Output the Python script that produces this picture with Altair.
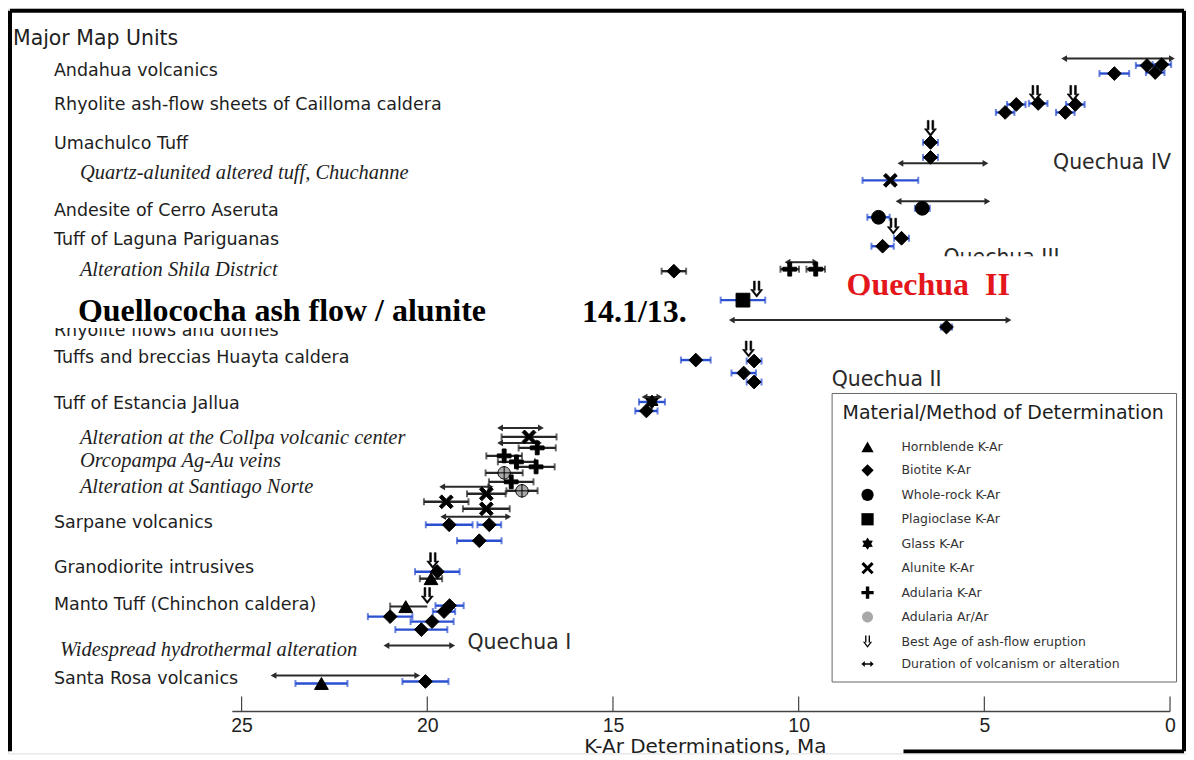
import altair as alt
import pandas as pd

# ---------------- data ----------------
METHODS = ["Hornblende K-Ar", "Biotite K-Ar", "Whole-rock K-Ar", "Plagioclase K-Ar",
           "Glass K-Ar", "Alunite K-Ar", "Adularia K-Ar", "Adularia Ar/Ar",
           "Best Age of ash-flow eruption", "Duration of volcanism or alteration"]
CODE = {"H": METHODS[0], "B": METHODS[1], "W": METHODS[2], "P": METHODS[3], "G": METHODS[4],
        "A": METHODS[5], "K": METHODS[6], "R": METHODS[7]}

# dated samples: method code, age (Ma), error half-width (Ma), error-bar colour, row position
s_code = ["B", "B", "B", "B",                       # Andahua volcanics
          "B", "B", "B", "B", "B",                  # Cailloma ash-flow sheets
          "B", "B",                                 # Umachulco Tuff
          "A",                                      # Chuchanne
          "W",                                      # Cerro Aseruta
          "W", "B", "B",                            # Laguna Pariguanas
          "B", "K", "K",                            # Shila district
          "P", "B",                                 # Quellococha / rhyolite domes
          "B", "B", "B", "B",                       # Huayta caldera
          "G", "B",                                 # Estancia Jallua
          "A", "K",                                 # Collpa
          "K", "K", "K",                            # Orcopampa veins
          "R", "K", "R",                            # Santiago Norte
          "A", "A", "A", "B", "B", "B",             # Sarpane volcanics
          "B", "H",                                 # Granodiorite intrusives
          "H", "B", "B", "B", "B", "B",             # Manto Tuff
          "H", "B"]                                 # Santa Rosa volcanics
s_age = [1.50, 0.62, 0.40, 0.22,
         4.44, 4.14, 3.55, 2.82, 2.55,
         6.45, 6.45,
         7.53,
         6.67,
         7.85, 7.23, 7.74,
         13.36, 10.24, 9.54,
         11.50, 6.02,
         12.77, 11.20, 11.48, 11.20,
         13.95, 14.10,
         17.26, 17.04,
         17.93, 17.60, 17.07,
         17.93, 17.74, 17.45,
         18.41, 19.49, 18.41, 19.41, 18.33, 18.60,
         19.73, 19.90,
         20.58, 21.00, 19.40, 19.55, 19.87, 20.16,
         22.85, 20.05]
s_err = [0.40, 0.30, 0.25, 0.25,
         0.25, 0.25, 0.25, 0.25, 0.25,
         0.20, 0.20,
         0.75,
         0.20,
         0.30, 0.20, 0.30,
         0.33, 0.25, 0.25,
         0.60, 0.15,
         0.40, 0.20, 0.33, 0.20,
         0.35, 0.30,
         0.74, 0.50,
         0.48, 0.50, 0.50,
         0.50, 0.60, 0.42,
         0.52, 0.60, 0.63, 0.63, 0.32, 0.60,
         0.60, 0.30,
         0.00, 0.60, 0.38, 0.30, 0.58, 0.70,
         0.70, 0.62]
s_bar = (["blue"] * 16 + ["black"] * 3 + ["blue"] * 8 + ["black"] * 11 +
         ["blue"] * 4 + ["black"] + ["black"] + ["blue"] * 5 + ["blue"] * 2)
s_pos = [73, 65, 72, 64,
         112, 104, 103, 112, 104,
         142, 157,
         180,
         208,
         217, 238, 246,
         271, 269, 269,
         300, 327,
         360, 361, 373, 382,
         402, 411,
         437, 448,
         456, 462, 467,
         473, 482, 491,
         494, 502, 509, 525, 525, 541,
         572, 579,
         607, 617, 606, 612, 622, 630,
         684, 682]

# best age of ash-flow eruption
ba_age = [3.63, 2.61, 6.45, 7.45, 11.13, 11.35, 19.85, 20.00]
ba_pos = [93, 93, 128, 226, 289, 349, 561, 596]

# duration of volcanism or alteration (older end, younger end, row)
d_old = [2.85, 7.26, 7.31, 10.30, 11.80, 14.15, 18.04, 18.04, 19.60, 19.57, 21.10, 24.14]
d_young = [-0.05, 4.97, 4.92, 9.55, 4.35, 13.75, 16.94, 16.99, 18.30, 17.82, 19.33, 20.27]
d_pos = [58, 163, 201, 262, 320, 397, 428, 443, 487, 517, 646, 676]

# bracket without a sample symbol (Manto Tuff)
br_old = [21.0]
br_young = [20.0]
br_pos = [607]

# row labels
sans_labels = ["Andahua volcanics", "Rhyolite ash-flow sheets of Cailloma caldera", "Umachulco Tuff",
               "Andesite of Cerro Aseruta", "Tuff of Laguna Pariguanas", "Rhyolite flows and domes",
               "Tuffs and breccias Huayta caldera", "Tuff of Estancia Jallua", "Sarpane volcanics",
               "Granodiorite intrusives", "Manto Tuff (Chinchon caldera)", "Santa Rosa volcanics"]
sans_pos = [70, 105, 144, 211, 240, 331, 358, 404, 523, 568, 605, 680]
italic_labels = ["Quartz-alunited altered tuff, Chuchanne", "Alteration Shila District",
                 "Alteration at the Collpa volcanic center", "Orcopampa Ag-Au veins",
                 "Alteration at Santiago Norte"]
italic_pos = [173, 270, 438, 461, 487]
flush_italic_labels = ["Widespread hydrothermal alteration"]
flush_italic_pos = [650]

quechua_labels = ["Quechua IV", "Quechua III", "Quechua II", "Quechua I"]
quechua_age = [3.15, 6.1, 9.11, 18.92]
quechua_pos = [163, 258, 380, 643]

tick_values = [25, 20, 15, 10, 5, 0]

# ---------------- frames ----------------
samples = pd.DataFrame({"method": [CODE[c] for c in s_code], "age": s_age, "err": s_err,
                        "bar": s_bar, "pos": s_pos})
samples["lo"] = samples["age"] + samples["err"]
samples["hi"] = samples["age"] - samples["err"]
bars = samples[samples["err"] > 0]
best = pd.DataFrame({"method": METHODS[8], "age": ba_age, "pos": ba_pos})
dur = pd.DataFrame({"old": d_old, "young": d_young, "pos": d_pos})
brk = pd.DataFrame({"old": br_old, "young": br_young, "pos": br_pos})
ticks = pd.DataFrame({"t": tick_values})
axis_line = pd.DataFrame({"a": [25.25], "b": [0.0]})
one = pd.DataFrame({"k": [0]})

SANS = "DejaVu Sans"
SERIF = "Liberation Serif"
NARROW = "Liberation Sans Narrow, Liberation Sans"
INK = "#1e1e1e"
BLUE = "#2a4fd0"

TITLE = "K-Ar Determinations, Ma"
xscale = alt.Scale(domain=[-0.43, 31.29], reverse=True, nice=False, zero=False)
yscale = alt.Scale(domain=[8, 754], reverse=True, nice=False, zero=False)
xaxis = alt.Axis(values=tick_values, offset=-42, domain=False, ticks=False, grid=False,
                 labelFontSize=19.5, labelFont=NARROW, labelColor=INK, labelPadding=5,
                 labelFlush=False, titleFontSize=20, titleFont=SANS, titleFontWeight="normal",
                 titleColor=INK, titlePadding=2, titleX=698)


def X(f):
    return alt.X(f, type="quantitative", scale=xscale, axis=xaxis, title=TITLE)


def Y(f):
    return alt.Y(f, type="quantitative", scale=yscale, axis=None)


X_PATH = "M-1,-0.65 L-0.65,-1 L0,-0.35 L0.65,-1 L1,-0.65 L0.35,0 L1,0.65 L0.65,1 L0,0.35 L-0.65,1 L-1,0.65 L-0.35,0 Z"
PLUS_PATH = "M-1,-0.28 L-0.28,-0.28 L-0.28,-1 L0.28,-1 L0.28,-0.28 L1,-0.28 L1,0.28 L0.28,0.28 L0.28,1 L-0.28,1 L-0.28,0.28 L-1,0.28 Z"
GLASS_PATH = "M0,-1 L0.3,-0.52 L0.87,-0.5 L0.6,0 L0.87,0.5 L0.3,0.52 L0,1 L-0.3,0.52 L-0.87,0.5 L-0.6,0 L-0.87,-0.5 L-0.3,-0.52 Z"
ARAR_PATH = "M-0.9,0 A0.9,0.9 0 1,0 0.9,0 A0.9,0.9 0 1,0 -0.9,0 Z M0,-1 L0,1 M-1,0 L1,0"
BEST_PATH = ("M-0.4,-1 L-0.18,-1 L-0.18,0.15 L-0.4,0.15 Z M0.18,-1 L0.4,-1 L0.4,0.15 L0.18,0.15 Z "
             "M-0.75,0.05 L-0.5,0.05 L0,0.7 L0.5,0.05 L0.75,0.05 L0,1 Z")
DUR_PATH = ("M-1,0 L-0.45,-0.5 L-0.45,-0.12 L0.45,-0.12 L0.45,-0.5 L1,0 L0.45,0.5 L0.45,0.12 "
            "L-0.45,0.12 L-0.45,0.5 Z")

shape_scale = alt.Scale(domain=METHODS,
                        range=["triangle-up", "diamond", "circle", "square", GLASS_PATH, X_PATH,
                               PLUS_PATH, ARAR_PATH, BEST_PATH, DUR_PATH])
fill_scale = alt.Scale(domain=METHODS,
                       range=["black"] * 7 + ["#a8a8a8", "black", "black"])
legend = alt.Legend(title="Material/Method of Determination", orient="none", legendX=825, legendY=385,
                    padding=11, strokeColor="#666", fillColor="white",
                    titleFont=SANS, titleFontSize=19, titleFontWeight="normal", titleColor=INK,
                    titlePadding=17, titleLimit=500,
                    labelFont=SANS, labelFontSize=12.5, labelColor="#333", labelOffset=27, labelLimit=400,
                    symbolOffset=18, rowPadding=6.5, symbolSize=150,
                    symbolStrokeColor="black", symbolStrokeWidth=1)

bar_color = alt.Color("bar:N", scale=alt.Scale(domain=["blue", "black"], range=[BLUE, "#262626"]),
                      legend=None)

layers = []
# duration arrows
layers.append(alt.Chart(dur).mark_rule(color="#2b2b2b", strokeWidth=2).encode(
    x=X("old"), x2="young", y=Y("pos")))
layers.append(alt.Chart(dur).mark_point(shape="triangle-left", filled=True, size=45, color="#2b2b2b",
                                        opacity=1).encode(x=X("old"), y=Y("pos")))
layers.append(alt.Chart(dur).mark_point(shape="triangle-right", filled=True, size=45, color="#2b2b2b",
                                        opacity=1).encode(x=X("young"), y=Y("pos")))
# bracket
layers.append(alt.Chart(brk).mark_rule(color="#2b2b2b", strokeWidth=2).encode(
    x=X("old"), x2="young", y=Y("pos")))
layers.append(alt.Chart(brk).mark_tick(orient="vertical", size=8, thickness=2, color="#2b2b2b").encode(
    x=X("old"), y=Y("pos")))
# error bars
layers.append(alt.Chart(bars).mark_rule(strokeWidth=2.4).encode(
    x=X("lo"), x2="hi", y=Y("pos"), color=bar_color))
layers.append(alt.Chart(bars).mark_tick(orient="vertical", size=7, thickness=2).encode(
    x=X("lo"), y=Y("pos"), color=bar_color))
layers.append(alt.Chart(bars).mark_tick(orient="vertical", size=7, thickness=2).encode(
    x=X("hi"), y=Y("pos"), color=bar_color))
# sample symbols
layers.append(alt.Chart(samples).mark_point(filled=True, size=190, stroke="black", strokeWidth=1,
                                            opacity=1).encode(
    x=X("age"), y=Y("pos"),
    shape=alt.Shape("method:N", scale=shape_scale, legend=legend),
    fill=alt.Fill("method:N", scale=fill_scale, legend=legend)))
# best-age arrows
layers.append(alt.Chart(best).mark_point(filled=True, size=260, stroke="black", strokeWidth=0.6,
                                         opacity=1).encode(
    x=X("age"), y=Y("pos"),
    shape=alt.Shape("method:N", scale=shape_scale, legend=legend),
    fill=alt.Fill("method:N", scale=fill_scale, legend=legend)))
# axis line and upward ticks
layers.append(alt.Chart(axis_line).mark_rule(color="#444", strokeWidth=1.6).encode(
    x=X("a"), x2="b", y=alt.value(704)))
layers.append(alt.Chart(ticks).mark_rule(color="#444", strokeWidth=1.2).encode(
    x=X("t"), y=alt.value(689), y2=alt.value(704)))

# labels
layers.append(alt.Chart(one).mark_text(align="left", baseline="middle", font=SANS, fontSize=20.5,
                                       color=INK, text="Major Map Units").encode(
    x=alt.value(5), y=alt.value(30)))
layers.append(alt.Chart(pd.DataFrame({"label": sans_labels, "pos": sans_pos})).mark_text(
    align="left", baseline="middle", font=SANS, fontSize=17.5, color=INK).encode(
    x=alt.value(46), y=Y("pos"), text="label:N"))
layers.append(alt.Chart(pd.DataFrame({"label": italic_labels, "pos": italic_pos})).mark_text(
    align="left", baseline="middle", font=SERIF, fontSize=20.5, fontStyle="italic", color=INK).encode(
    x=alt.value(72), y=Y("pos"), text="label:N"))
layers.append(alt.Chart(pd.DataFrame({"label": flush_italic_labels, "pos": flush_italic_pos})).mark_text(
    align="left", baseline="middle", font=SERIF, fontSize=20.5, fontStyle="italic", color=INK).encode(
    x=alt.value(52), y=Y("pos"), text="label:N"))
layers.append(alt.Chart(pd.DataFrame({"label": quechua_labels, "age": quechua_age, "pos": quechua_pos})).mark_text(
    align="left", baseline="middle", font=SANS, fontSize=20.5, color="#2a2a2a").encode(
    x=X("age"), y=Y("pos"), text="label:N"))

# pasted-over annotations
layers.append(alt.Chart(one).mark_rect(color="white").encode(
    x=alt.value(47), x2=alt.value(704), y=alt.value(275), y2=alt.value(320)))
layers.append(alt.Chart(one).mark_rect(color="white").encode(
    x=alt.value(820), x2=alt.value(1064), y=alt.value(248), y2=alt.value(292)))
layers.append(alt.Chart(one).mark_text(align="left", baseline="alphabetic", font=SERIF, fontSize=32,
                                       fontWeight="bold", color="black",
                                       text="Quellococha ash flow / alunite").encode(
    x=alt.value(70), y=alt.value(313)))
layers.append(alt.Chart(one).mark_text(align="left", baseline="alphabetic", font=SERIF, fontSize=32,
                                       fontWeight="bold", color="black", text="14.1/13.").encode(
    x=alt.value(575), y=alt.value(314)))
layers.append(alt.Chart(one).mark_text(align="left", baseline="alphabetic", font=SERIF, fontSize=32,
                                       fontWeight="bold", color="#e3161b",
                                       text="Quechua\u00a0 II").encode(
    x=alt.value(840), y=alt.value(287)))
layers.append(alt.Chart(one).mark_rect(color="white").encode(
    x=alt.value(47), x2=alt.value(704), y=alt.value(314), y2=alt.value(320)))
layers.append(alt.Chart(one).mark_rect(color="white").encode(
    x=alt.value(820), x2=alt.value(1064), y=alt.value(287), y2=alt.value(292)))
# scanned-page frame (left, top, right edges and the visible part of the bottom edge)
FRAME = dict(color="black", strokeWidth=4)
layers.append(alt.Chart(one).mark_rule(**FRAME).encode(
    x=alt.value(2), y=alt.value(2), y2=alt.value(744)))
layers.append(alt.Chart(one).mark_rule(**FRAME).encode(
    x=alt.value(2), x2=alt.value(1178), y=alt.value(2)))
layers.append(alt.Chart(one).mark_rule(**FRAME).encode(
    x=alt.value(1178), y=alt.value(2), y2=alt.value(744)))
layers.append(alt.Chart(one).mark_rule(**FRAME).encode(
    x=alt.value(897), x2=alt.value(1178), y=alt.value(744)))

chart = alt.layer(*layers).properties(width=1180, height=746, padding=0).configure_view(
    stroke="transparent").configure(font=SANS)

chart.save("out.html", embed_options={"renderer": "svg", "actions": False})
